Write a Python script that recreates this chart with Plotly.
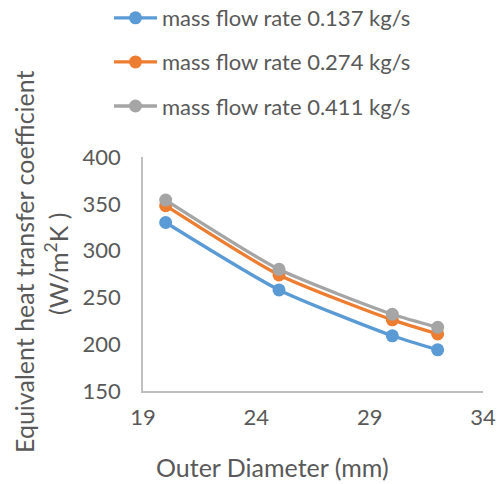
import plotly.graph_objects as go

diameters = [20, 25, 30, 32]
series_names = ["mass flow rate 0.137 kg/s", "mass flow rate 0.274 kg/s", "mass flow rate 0.411 kg/s"]
h_0137 = [330, 258, 209, 194]
h_0274 = [348, 274, 226, 211]
h_0411 = [354, 280, 232, 218]
colors = ["#5B9BD5", "#ED7D31", "#A5A5A5"]
x_ticks = [19, 24, 29, 34]
y_ticks = [150, 200, 250, 300, 350, 400]

FONT = "Lato"
TXT = "#595959"
FS = 22
TFS = 25

fig = go.Figure()
for i, (name, vals) in enumerate(zip(series_names, [h_0137, h_0274, h_0411])):
    fig.add_trace(go.Scatter(
        x=diameters, y=vals, name=name, mode="lines+markers",
        line=dict(color=colors[i], width=3.3, shape="spline", smoothing=0.6),
        marker=dict(color=colors[i], size=13),
        legendgroup=f"g{i}",
    ))

fig.update_layout(
    width=503, height=484,
    margin=dict(l=143, r=20, t=157, b=93, autoexpand=False),
    paper_bgcolor="white", plot_bgcolor="white",
    font=dict(family=FONT, size=FS, color=TXT),
    showlegend=True,
    legend=dict(
        x=(109 - 143) / 340, y=1 + (157 + 3) / 234, xanchor="left", yanchor="top",
        orientation="v", traceorder="grouped", tracegroupgap=12.5,
        itemwidth=43, font=dict(family=FONT, size=FS, color=TXT),
        bgcolor="rgba(0,0,0,0)", borderwidth=0,
    ),
    xaxis=dict(
        range=[19, 34], tickvals=x_ticks, showgrid=False, zeroline=False,
        showline=True, linecolor="#BFBFBF", linewidth=1.5, ticks="",
        ticklabelstandoff=6, tickfont=dict(family=FONT, size=FS, color=TXT),
    ),
    yaxis=dict(
        range=[150, 400], tickvals=y_ticks, showgrid=False, zeroline=False,
        showline=True, linecolor="#BFBFBF", linewidth=1.5, ticks="",
        ticklabelstandoff=16, tickfont=dict(family=FONT, size=FS, color=TXT),
    ),
)

fig.add_annotation(
    text="Equivalent heat transfer coefficient", textangle=-90,
    xref="paper", yref="paper", x=(24 - 143) / 340, y=(391 - 262) / 234,
    xanchor="center", yanchor="middle", showarrow=False,
    font=dict(family=FONT, size=TFS, color=TXT),
)
fig.add_annotation(
    text="(W/m<sup>2</sup>K )", textangle=-90,
    xref="paper", yref="paper", x=(56 - 143) / 340, y=(391 - 264) / 234,
    xanchor="center", yanchor="middle", showarrow=False,
    font=dict(family=FONT, size=TFS, color=TXT),
)
fig.add_annotation(
    text="Outer Diameter (mm)",
    xref="paper", yref="paper", x=(272 - 143) / 340, y=-(467 - 391) / 234,
    xanchor="center", yanchor="middle", showarrow=False,
    font=dict(family=FONT, size=TFS, color=TXT),
)

fig.write_html("out.html")
